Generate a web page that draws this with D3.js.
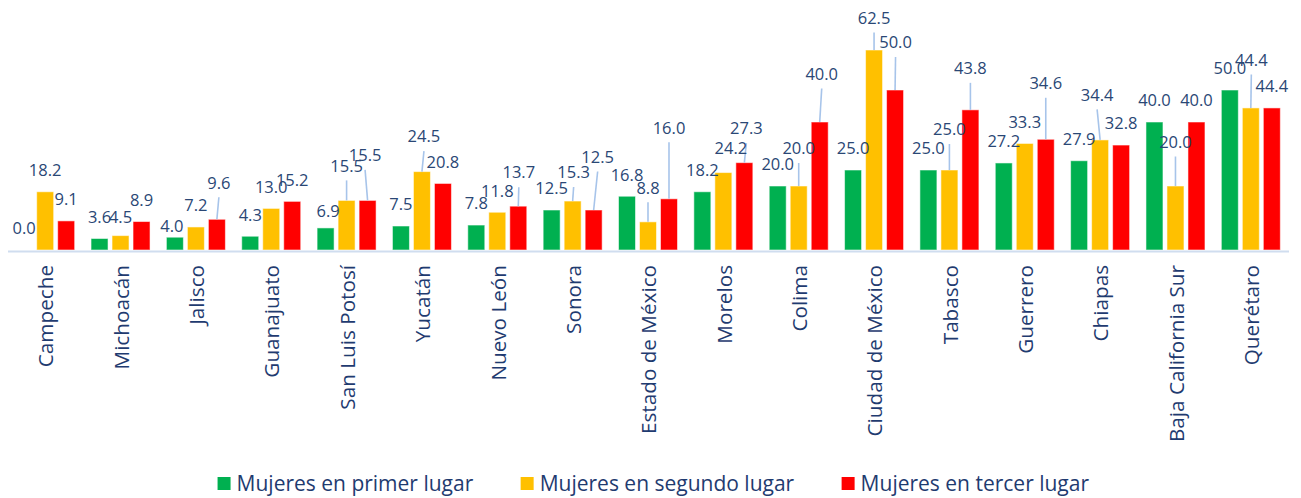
<!DOCTYPE html>
<html>
<head>
<meta charset="utf-8">
<script src="https://cdn.jsdelivr.net/npm/d3@7"></script>
<style>
    body { margin: 0; background: #fff; }
    text { font-family: "Open Sans", sans-serif; }
</style>
</head>
<body>
<div id="chart-area"></div>
<script>
// data (%)
var categories = ["Campeche", "Michoacán", "Jalisco", "Guanajuato", "San Luis Potosí", "Yucatán",
    "Nuevo León", "Sonora", "Estado de México", "Morelos", "Colima", "Ciudad de México",
    "Tabasco", "Guerrero", "Chiapas", "Baja California Sur", "Querétaro"];
var primerLugar  = [0.0, 3.6, 4.0, 4.3, 6.9, 7.5, 7.8, 12.5, 16.8, 18.2, 20.0, 25.0, 25.0, 27.2, 27.9, 40.0, 50.0];
var segundoLugar = [18.2, 4.5, 7.2, 13.0, 15.5, 24.5, 11.8, 15.3, 8.8, 24.2, 20.0, 62.5, 25.0, 33.3, 34.4, 20.0, 44.4];
var tercerLugar  = [9.1, 8.9, 9.6, 15.2, 15.5, 20.8, 13.7, 12.5, 16.0, 27.3, 40.0, 50.0, 43.8, 34.6, 32.8, 40.0, 44.4];
var seriesNames  = ["Mujeres en primer lugar", "Mujeres en segundo lugar", "Mujeres en tercer lugar"];
var seriesColors = ["#00B050", "#FFC000", "#FF0000"];

// labels that were dragged in the original, [dx, dy] from the bar top (layout only)
var labelNudge = {
    "1-1": [0, -18], "2-0": [-3, -11], "2-2": [2, -36.5],
    "4-0": [2.5, -16.5], "4-1": [0, -34.5], "4-2": [-2.5, -45],
    "5-1": [2, -35], "6-2": [0.5, -33.5], "7-1": [1, -28.5], "7-2": [4, -53],
    "8-1": [0, -34], "8-2": [0, -71], "9-1": [7.5, -24], "9-2": [2, -34],
    "10-1": [0, -37.5], "10-2": [2, -48], "11-1": [0, -32], "11-2": [0.5, -47.5],
    "12-1": [0, -40.5], "12-2": [0, -41.5], "13-2": [0, -56], "14-1": [-3, -45],
    "15-1": [0, -44], "16-1": [0.5, -48]
};

var W = 1301, H = 498;
var baseY = 250;

var svg = d3.select("#chart-area")
    .append("svg")
        .attr("width", W)
        .attr("height", H);

var x = d3.scaleBand()
    .domain(categories)
    .range([7.5, 1288.5]);

var xs = d3.scalePoint()
    .domain([0, 1, 2])
    .range([-21, 21]);

var y = d3.scaleLinear()
    .domain([0, 70])
    .range([baseY, baseY - 70 * 3.2]);

var barW = 17;

var rows = [];
categories.forEach(function(c, i){
    [primerLugar, segundoLugar, tercerLugar].forEach(function(arr, s){
        var nudge = labelNudge[i + "-" + s] || [0, -21.5];
        rows.push({ cat: c, i: i, s: s, value: arr[i], dx: nudge[0], dy: nudge[1] });
    });
});

function cx(d){ return x(d.cat) + x.bandwidth() / 2 + xs(d.s); }

// bars
svg.append("g").selectAll("rect")
    .data(rows)
    .enter()
    .append("rect")
        .attr("x", function(d){ return cx(d) - barW / 2; })
        .attr("y", function(d){ return y(d.value); })
        .attr("width", barW)
        .attr("height", function(d){ return baseY - y(d.value); })
        .attr("fill", function(d){ return seriesColors[d.s]; })
        .attr("stroke", "rgba(255,255,255,0.55)")
        .attr("stroke-width", 1);

// axis
var xAxisCall = d3.axisBottom(x)
    .tickSize(0)
    .tickSizeOuter(0);

var xAxis = svg.append("g")
    .attr("transform", "translate(0," + (baseY + 1) + ")")
    .call(xAxisCall);

xAxis.select(".domain")
    .attr("stroke", "#D0DDEF")
    .attr("stroke-width", 2);

xAxis.selectAll("text")
    .attr("transform", "rotate(-90)")
    .attr("x", -14)
    .attr("y", 1)
    .attr("dy", "0.35em")
    .attr("text-anchor", "end")
    .attr("font-family", "Open Sans, sans-serif")
    .attr("font-size", "20.7px")
    .attr("fill", "#1F3B70");

// leader lines for moved labels
svg.append("g").selectAll("line")
    .data(rows.filter(function(d){ return d.dy < -26; }))
    .enter()
    .append("line")
        .attr("x1", function(d){ return cx(d); })
        .attr("y1", function(d){ return y(d.value); })
        .attr("x2", function(d){ return cx(d) + d.dx; })
        .attr("y2", function(d){ return y(d.value) + d.dy + 14.5; })
        .attr("stroke", "#A7C4EA")
        .attr("stroke-width", 1.6);

// value labels
svg.append("g").selectAll("text")
    .data(rows)
    .enter()
    .append("text")
        .attr("x", function(d){ return cx(d) + d.dx; })
        .attr("y", function(d){ return y(d.value) + d.dy; })
        .attr("dy", "0.35em")
        .attr("text-anchor", "middle")
        .attr("font-size", "16.5px")
        .attr("fill", "#2A4775")
        .text(function(d){ return d.value.toFixed(1); });

// legend
var legend = svg.append("g");
var items = legend.selectAll("g")
    .data(seriesNames)
    .enter()
    .append("g");

items.append("rect")
    .attr("width", 13)
    .attr("height", 13)
    .attr("y", 477)
    .attr("fill", function(d, i){ return seriesColors[i]; });

items.append("text")
    .attr("x", 19)
    .attr("y", 484)
    .attr("dy", "0.35em")
    .attr("font-size", "21px")
    .attr("fill", "#1F3B70")
    .text(function(d){ return d; });

var widths = [];
items.each(function(){ widths.push(this.getBBox().width); });
var gap = 47;
var total = d3.sum(widths) + gap * (widths.length - 1);
var pos = (W - total) / 2 + 3;
items.attr("transform", function(d, i){
    var t = "translate(" + pos + ",0)";
    pos += widths[i] + gap;
    return t;
});
</script>
</body>
</html>
